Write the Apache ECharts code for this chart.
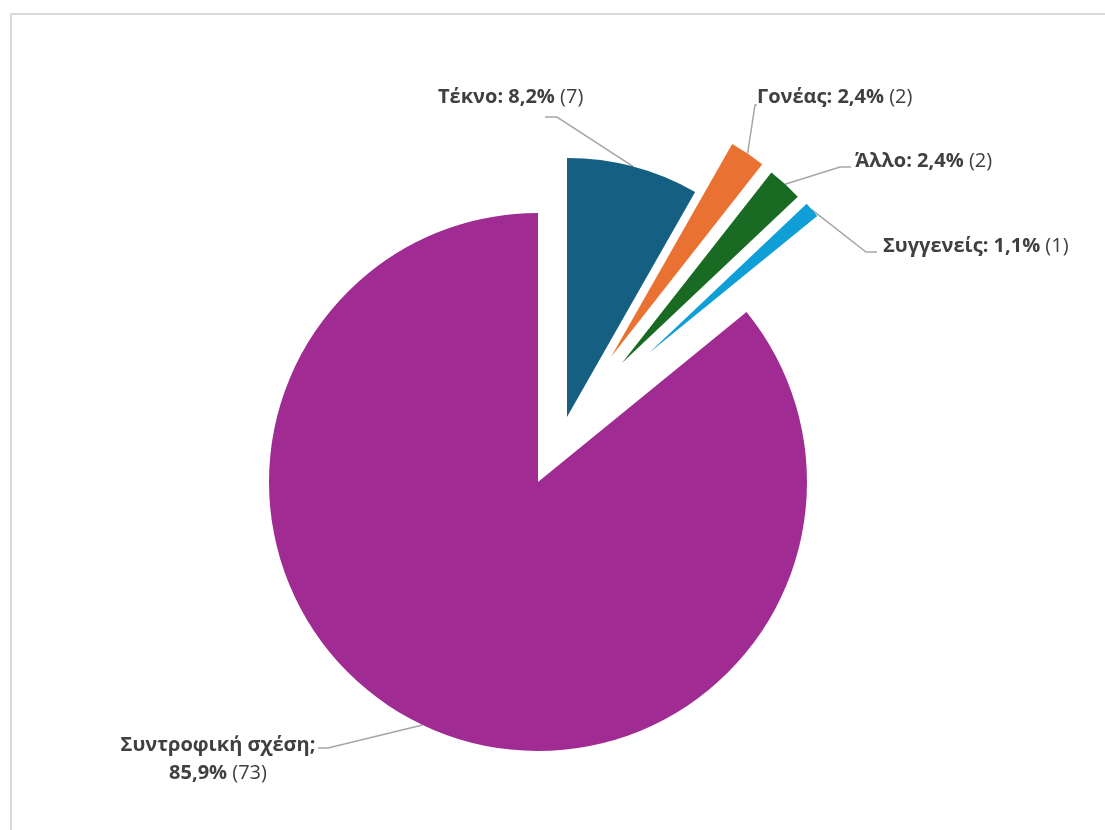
<!DOCTYPE html>
<html>
<head>
<meta charset="utf-8">
<script src="https://cdn.jsdelivr.net/npm/echarts@6/dist/echarts.min.js"></script>
<style>
html,body{margin:0;padding:0;background:#fff;}
#chart{width:1105px;height:830px;}
</style>
</head>
<body>
<div id="chart"></div>
<script>
// ---- data ----
const categories = ['Τέκνο', 'Γονέας', 'Άλλο', 'Συγγενείς', 'Συντροφική σχέση'];
const counts = [7, 2, 2, 1, 73];
const percents = [8.2, 2.4, 2.4, 1.1, 85.9];
const separators = [': ', ': ', ': ', ': ', ';\n'];

// ---- style / layout ----
const colors = ['#156082', '#E97132', '#196B24', '#0F9ED5', '#A02B93'];
const sliceCenters = [[567, 417], [611, 357], [622, 363], [649, 353], [538, 482]];
const sliceRadii = [259, 245, 242, 217, 269];
const labelPos = [[438, 97, 'left'], [757, 97, 'left'], [855, 161, 'left'], [883, 246, 'left'], [218, 759, 'center']];
const leaderEnds = [
  [[557, 117], [545, 117]],
  [[755, 105], [757, 105]],
  [[840, 167], [851, 167]],
  [[866, 252], [877, 252]],
  [[328, 748], [318, 748]]
];

const total = counts.reduce((a, b) => a + b, 0);
function arcMid(i) {
  let before = 0;
  for (let j = 0; j < i; j++) before += counts[j];
  const theta = (before + counts[i] / 2) / total * 2 * Math.PI;
  const c = sliceCenters[i], r = sliceRadii[i];
  return [c[0] + r * Math.sin(theta), c[1] - r * Math.cos(theta)];
}

const FONT = '"Open Sans", "Noto Sans", sans-serif';
const FS = 20;
const series = categories.map((cat, i) => ({
  type: 'pie',
  center: sliceCenters[i],
  radius: sliceRadii[i],
  startAngle: 90,
  clockwise: true,
  silent: true,
  animation: false,
  avoidLabelOverlap: false,
  itemStyle: { borderWidth: 0 },
  emphasis: { disabled: true },
  label: {
    show: true,
    position: 'outside',
    fontFamily: FONT,
    fontSize: FS,
    color: '#404040',
    formatter: (p) => {
      const k = p.dataIndex;
      return '{b|' + categories[k] + separators[k] + percents[k].toFixed(1).replace('.', ',') + '% }{n|(' + counts[k] + ')}';
    },
    rich: {
      b: { fontFamily: FONT, fontWeight: 'bold', fontSize: FS, color: '#404040', lineHeight: i === 4 ? 28 : 24 },
      n: { fontFamily: FONT, fontWeight: 'normal', fontSize: FS, color: '#404040', lineHeight: i === 4 ? 28 : 24 }
    }
  },
  labelLine: { show: true, lineStyle: { color: '#a6a6a6', width: 1.5 } },
  labelLayout: (params) => {
    const k = params.dataIndex;
    const lp = labelPos[k];
    return {
      x: lp[0], y: lp[1], align: lp[2], verticalAlign: 'middle',
      labelLinePoints: [arcMid(k), leaderEnds[k][0], leaderEnds[k][1]]
    };
  },
  data: categories.map((name, j) => ({
    name: name,
    value: counts[j],
    itemStyle: { color: j === i ? colors[j] : 'rgba(0,0,0,0)' },
    label: { show: j === i },
    labelLine: { show: j === i }
  }))
}));

const chart = echarts.init(document.getElementById('chart'), null, { renderer: 'canvas' });
chart.setOption({
  backgroundColor: '#ffffff',
  animation: false,
  graphic: [{
    type: 'rect',
    silent: true,
    shape: { x: 11, y: 14, width: 1200, height: 900 },
    style: { fill: 'none', stroke: '#d9d9d9', lineWidth: 2 }
  }],
  series: series
});
</script>
</body>
</html>
